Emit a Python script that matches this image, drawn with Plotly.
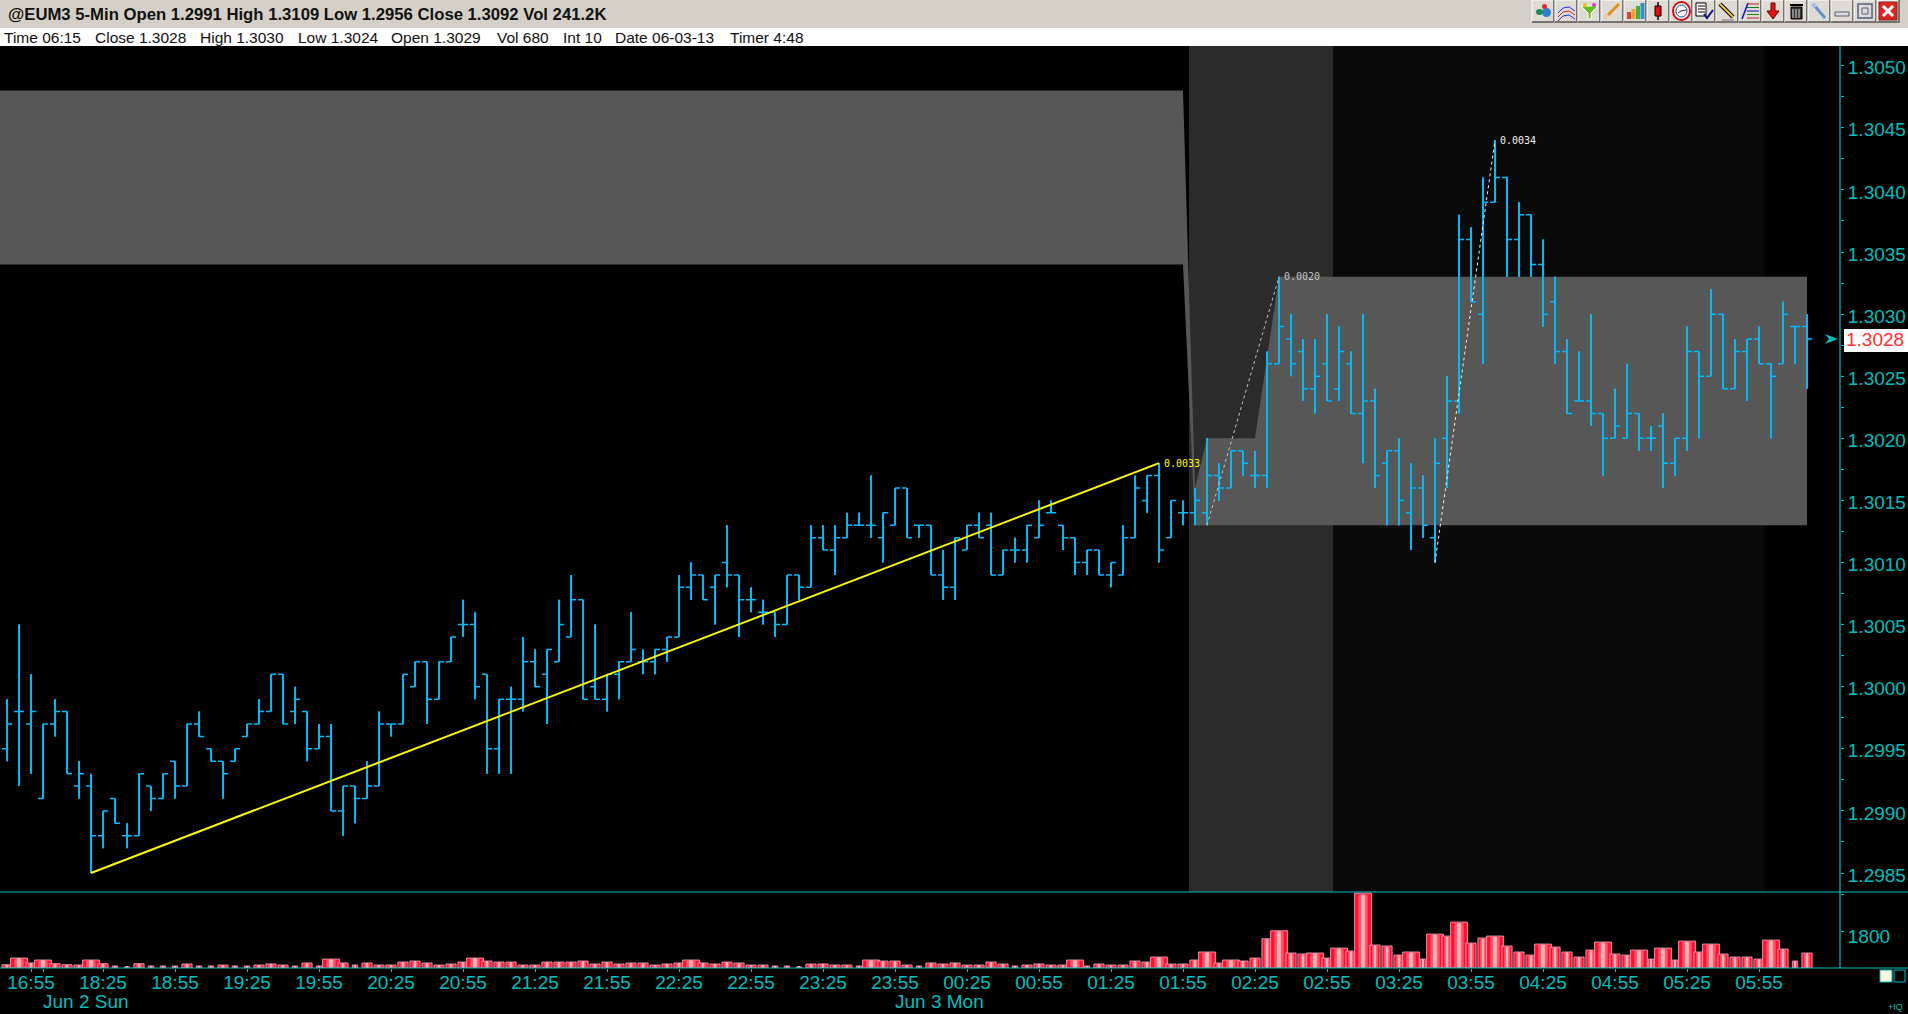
#!/usr/bin/env python
"""@EUM3 5-min bar chart with volume pane, session shading and swing measurements."""
import plotly.graph_objects as go

W, H = 1908, 1014
TEAL = "#00BEBE"; BARC = "#00BAFF"; PANEL = "#D4D0C8"
FONT = "Liberation Sans, Arial, sans-serif"; MONO = "DejaVu Sans Mono, monospace"

BASE_PRICE = 1.2985  # pips below are counted up from this price
open_pips = [10,13,12,6,12,13,7,7,3,6, 3,3,7,6,9,7,12,10,9,9, 11,12,13,16,13,13,10,11,5,7,
             6,7,12,12,15,17,14,17,20,20, 16,10,14,14,17,16,17,19,22,15, 14,16,17,17,17,18,19,23,24,23,
             25,24,22,21,21,20,24,23,27,26, 27,28,28,27,28,31,28,28,24,23, 26,28,28,24,26,26,27,29,28,27,
             25,26,24,24,27,30,32,27,29,29, 29,32,31,34,32,32,41,43,42,39, 41,39,41,37,38,33,34,29,31,27,
             35,38,51,45,54,56,51,53,49,46, 42,38,38,37,35,35,37,35,36,33, 35,42,40,45,39,42,43,41,41,44,44]
high_pips = [14,20,16,12,14,13,9,8,5,6, 4,8,7,8,9,12,13,10,9,10, 12,14,16,16,15,13,12,12,7,7,
             9,13,12,16,17,17,17,19,22,21, 16,14,15,19,18,18,22,24,22,20, 16,17,21,18,18,19,24,25,24,24,
             28,24,23,22,21,24,24,28,28,28, 29,29,32,29,31,31,28,28,26,27, 28,29,29,26,27,28,30,30,28,27,
             26,26,25,28,32,32,33,30,30,31, 35,33,34,34,34,42,48,45,43,43, 45,44,42,45,39,34,35,33,32,35,
             40,53,52,56,59,56,54,53,51,48, 43,42,45,37,39,41,37,36,37,35, 44,42,47,45,43,43,44,41,46,44,45]
low_pips = [9,7,8,6,11,8,6,0,2,4, 2,3,5,6,6,7,11,9,6,9, 11,12,13,12,12,9,10,5,3,4,
            6,7,11,12,15,12,14,17,19,14, 8,8,8,13,15,12,17,19,14,14, 13,14,17,16,16,17,19,22,22,20,
            23,19,21,20,19,20,22,23,26,24, 27,28,27,25,28,27,27,24,22,22, 26,27,24,24,25,25,27,29,26,24,
            24,24,23,24,27,29,25,27,28,28, 28,30,31,32,31,31,41,40,38,37, 38,38,37,33,31,28,28,26,27,25,
            31,37,46,41,54,48,48,48,44,41, 37,38,36,32,35,35,34,34,31,32, 34,35,40,39,39,38,41,35,41,41,39]
close_pips = [12,13,13,12,13,8,8,3,5,4, 3,8,6,8,7,12,11,9,8,10, 12,13,16,12,14,10,11,5,7,6,
              7,12,12,16,17,14,17,19,20,15, 10,14,14,17,15,18,20,22,14,14, 16,17,18,17,18,19,23,24,22,24,
              24,22,22,21,20,24,23,27,26,27, 28,28,28,29,31,27,28,24,23,27, 28,27,24,26,26,28,28,29,27,25,
              26,24,25,27,31,32,26,30,29,30, 32,31,34,33,32,41,44,41,39,40, 38,42,37,38,32,34,30,31,28,33,
              38,51,46,54,56,51,53,49,45,42, 37,38,37,35,36,37,35,35,33,35, 42,40,45,39,42,43,41,40,45,44,43]
volumes = [160,485,245,390,210,160,145,390,210,100, 50,210,100,100,100,195,100,100,145,100, 100,145,195,145,100,245,100,435,245,145,
           245,145,145,290,340,245,145,195,290,485, 340,290,290,145,145,290,290,290,340,195, 290,195,245,245,145,195,245,390,245,195,
           290,245,145,145,100,100,50,195,195,145, 145,100,390,340,340,145,100,245,195,245, 145,145,290,195,100,145,195,145,145,390,
           100,195,145,145,340,290,535,195,195,390, 780,245,390,340,485,1425,1815,730,680,730, 485,970,825,3645,1120,1070,630,780,435,1650,
           1555,2235,1215,1460,1555,1070,780,630,1165,1020, 780,535,875,1265,680,630,875,435,970,390, 1310,780,1165,680,535,535,435,1360,925,340,730]
time_ticks = [2,8,14,20,26,32,38,44,50,56,62,68,74,80,86,92,98,104,110,116,122,128,134,140,146]
time_labels = ["16:55","18:25","18:55","19:25","19:55","20:25","20:55","21:25","21:55","22:25","22:55","23:25",
               "23:55","00:25","00:55","01:25","01:55","02:25","02:55","03:25","03:55","04:25","04:55","05:25","05:55"]
date_ticks = [3, 74]
date_labels = ["Jun 2 Sun", "Jun 3 Mon"]
# session shading (bar positions) and the grey range band
session_x = [98.5, 110.5, 146.5]
band_x = [-2, 98, 99, 100, 104, 106, 150, 150, 99, 98, -2]
band_pips = [63, 63, 31, 35, 35, 48, 48, 28, 28, 49, 49]
# swing measurements: start bar, end bar, start pips, end pips, label
swing_bars = [(100, 106), (119, 124)]
swing_pips = [(28, 48), (25, 59)]
swing_labels = ["0.0020", "0.0034"]
swing_colors = ["#C4C4C4", "#F0F0F0"]
trend_bars = [7, 96]
trend_pips = [0, 33]
trend_label = "0.0033"

def price(p): return round(BASE_PRICE + p / 10000, 4)
def px(x): return x / W
def py(y): return 1 - y / H

shapes = []; notes = []
def rect(x0, y0, x1, y1, fill=None, line=None, lw=1, kind="rect", layer="below"):
    shapes.append(dict(type=kind, xref="paper", yref="paper", x0=px(x0), x1=px(x1), y0=py(y0), y1=py(y1), layer=layer,
                       fillcolor=fill or "rgba(0,0,0,0)", line=dict(color=line or "rgba(0,0,0,0)", width=lw if line else 0)))
def path(pts, color=None, lw=1, fill=None, close=False, layer="below"):
    d = "M" + " L".join(f"{px(a):.5f},{py(b):.5f}" for a, b in pts) + (" Z" if close else "")
    shapes.append(dict(type="path", xref="paper", yref="paper", path=d, layer=layer, fillcolor=fill or "rgba(0,0,0,0)",
                       line=dict(color=color or "rgba(0,0,0,0)", width=lw if color else 0)))
def text(x, y, s, size, color, family=FONT, anchor="left", xref="paper", yref="paper"):
    notes.append(dict(x=x, y=y, text=s, xref=xref, yref=yref, showarrow=False, xanchor=anchor, yanchor="middle",
                      font=dict(size=size, color=color, family=family), borderpad=0, borderwidth=0))

# window chrome
rect(0, 0, W, 28, PANEL); rect(0, 28, W, 46, "white")
text(px(8), py(15), "<b>@EUM3 5-Min Open 1.2991 High 1.3109 Low 1.2956 Close 1.3092 Vol 241.2K</b>", 16.7, "#111")
status = [(4,"Time 06:15"),(95,"Close 1.3028"),(200,"High 1.3030"),(298,"Low 1.3024"),(391,"Open 1.3029"),
          (497,"Vol 680"),(563,"Int 10"),(615,"Date 06-03-13"),(730,"Timer 4:48")]
for x, s in status:
    text(px(x), py(38), s, 15.5, "#111")

# toolbar
for i in range(16):
    b = 1532 + 23 * i
    rect(b, 0, b + 22, 22, "#DEDBD4")
    path([(b, 22), (b, 0), (b + 22, 0)], "white", 1)
    path([(b, 22), (b + 22, 22), (b + 22, 0)], "#555", 1.5)
b0 = 1532
def B(i): return b0 + 23 * i
rect(B(0)+10, 8, B(0)+19, 17, "#2F7FD0", kind="circle"); rect(B(0)+4, 9, B(0)+11, 15, "#1E8A55", kind="circle"); rect(B(0)+10, 4, B(0)+15, 9, "#D03030", kind="circle")
for c, dy in (("#2030E0", 5), ("#E02020", 9), ("#2030E0", 13)):
    path([(B(1)+3, 13+dy-5), (B(1)+8, 8+dy-5), (B(1)+14, 7+dy-5), (B(1)+20, 11+dy-5)], c, 1)
path([(B(2)+3, 6), (B(2)+20, 6), (B(2)+13, 13), (B(2)+13, 19), (B(2)+10, 19), (B(2)+10, 13)], "#FFF", 1, "#60C020", True)
rect(B(2)+5, 3, B(2)+9, 7, "#E0C020", kind="circle"); rect(B(2)+14, 3, B(2)+18, 7, "#D040C0", kind="circle")
path([(B(3)+4, 18), (B(3)+18, 4)], "#E09020", 3); path([(B(3)+4, 18), (B(3)+7, 15)], "#F0D0A0", 3)
for k, (c, t) in enumerate((("#E04030", 12), ("#F0A030", 9), ("#40B040", 6), ("#3090D0", 3))):
    rect(B(4)+3+4.5*k, t, B(4)+7+4.5*k, 19, c)
path([(B(5)+11, 2), (B(5)+11, 20)], "black", 1.5); rect(B(5)+8, 6, B(5)+14, 16, "#E01010", "black", 1)
rect(B(6)+3, 2, B(6)+20, 20, "white", "#D01010", 2, kind="circle"); rect(B(6)+6, 5, B(6)+17, 17, None, "#2040A0", 1, kind="circle")
path([(B(6)+8, 13), (B(6)+11, 11), (B(6)+16, 10)], "#102060", 1)
rect(B(7)+3, 3, B(7)+13, 16, "white", "black", 1)
for k in range(3):
    path([(B(7)+5, 6+3*k), (B(7)+12, 6+3*k)], "black", 1)
path([(B(7)+11, 14), (B(7)+14, 18), (B(7)+20, 10)], "#101080", 2)
path([(B(8)+4, 4), (B(8)+17, 17)], "black", 4); path([(B(8)+4, 4), (B(8)+17, 17)], "#F0D020", 2); path([(B(8)+6, 20), (B(8)+18, 20)], "#777", 1)
path([(B(9)+3, 19), (B(9)+9, 3)], "#1010E0", 1.5)
for k, c in enumerate(("#C02020", "#108010", "#1010C0", "#108010", "#C02020")):
    path([(B(9)+8, 4+3.5*k), (B(9)+20, 4+3.5*k)], c, 1)
path([(B(10)+9, 3), (B(10)+13, 3), (B(10)+13, 11), (B(10)+17, 11), (B(10)+11, 19), (B(10)+5, 11), (B(10)+9, 11)], "#600", 1, "#E81010", True)
rect(B(11)+6, 7, B(11)+17, 19, "#333", "black", 1); rect(B(11)+5, 4, B(11)+18, 6, "black")
for k in range(3):
    path([(B(11)+8+3*k, 9), (B(11)+8+3*k, 18)], "#DDD", 1)
path([(B(12)+5, 4), (B(12)+17, 18)], "#6090D0", 3); path([(B(12)+4, 3), (B(12)+8, 7)], "#B0C8E8", 2)
rect(B(13)+4, 12, B(13)+18, 16, None, "#556080", 1)
rect(B(14)+4, 4, B(14)+18, 18, None, "#556080", 1.5); rect(B(14)+8, 8, B(14)+14, 14, None, "#556080", 1)
rect(B(15)+2, 2, B(15)+20, 20, "#D82820", "#902020", 1)
path([(B(15)+6, 6), (B(15)+16, 16)], "white", 3); path([(B(15)+16, 6), (B(15)+6, 16)], "white", 3)

# session shading in the price pane
for i, c in enumerate(("#2B2B2B", "#0A0A0A")):
    shapes.append(dict(type="rect", xref="x", yref="y domain", x0=session_x[i], x1=session_x[i + 1], y0=0, y1=1,
                       fillcolor=c, line=dict(width=0), layer="below"))
# grey range band as a shape, a filled scatter would sit on top of the ohlc layer
band_path = "M" + " L".join(f"{a},{price(b)}" for a, b in zip(band_x, band_pips)) + " Z"
shapes.append(dict(type="path", xref="x", yref="y", path=band_path, fillcolor="#575757", line=dict(width=0), layer="below"))
# pane separators, full width
for yy in (892, 968):
    path([(0, yy), (W, yy)], TEAL, 1.2, layer="above")
path([(1840, 46), (1840, 968)], TEAL, 1.2, layer="above")
# last price arrow, fishtail
path([(1838, 339), (1825, 334), (1829, 339), (1825, 344)], None, 0, TEAL, True, layer="above")

xs = list(range(len(close_pips)))
opens, highs, lows, closes = [[price(p) for p in a] for a in (open_pips, high_pips, low_pips, close_pips)]
fig = go.Figure()
fig.add_trace(go.Ohlc(x=xs, open=opens, high=highs, low=lows, close=closes, tickwidth=0.42, hoverinfo="skip",
                      increasing=dict(line=dict(color=BARC, width=1.5)), decreasing=dict(line=dict(color=BARC, width=1.5))))
sx, sy = [], []
for i in xs:
    sx += [i, i, None]; sy += [lows[i], highs[i], None]
fig.add_trace(go.Scatter(x=sx, y=sy, mode="lines", line=dict(color=BARC, width=2), hoverinfo="skip"))
fig.add_trace(go.Scatter(x=trend_bars, y=[price(p) for p in trend_pips], mode="lines", line=dict(color="#FFFF00", width=2), hoverinfo="skip"))
for bars, pips, c in zip(swing_bars, swing_pips, swing_colors):
    fig.add_trace(go.Scatter(x=list(bars), y=[price(p) for p in pips], mode="lines", line=dict(color=c, width=1, dash="3px,3px"), hoverinfo="skip"))

# volume: body width follows local peaks and dips, lighter core down the middle
def vol_width(i):
    v = volumes[i]; a = volumes[max(i - 1, 0)]; b = volumes[min(i + 1, len(volumes) - 1)]
    if v >= 390 and v >= 1.05 * max(a, b): return 1.4
    if v <= 100 or v < 0.6 * min(a, b): return 0.45
    return 0.85
widths = [vol_width(i) for i in xs]
fig.add_trace(go.Bar(x=xs, y=volumes, xaxis="x2", yaxis="y2", width=widths, hoverinfo="skip",
                     marker=dict(color="#FF1030", line=dict(color="#FFB0D0", width=0.8))))
fig.add_trace(go.Bar(x=xs, y=[v * 0.98 for v in volumes], xaxis="x2", yaxis="y2", width=[w * 0.55 for w in widths], hoverinfo="skip",
                     marker=dict(color="#FF5868", line=dict(width=0))))
fig.add_trace(go.Bar(x=xs, y=[v * 0.98 for v in volumes], xaxis="x2", yaxis="y2", width=[w * 0.22 for w in widths], hoverinfo="skip",
                     marker=dict(color="#FFB4BC", line=dict(width=0))))

# measurement labels
text(trend_bars[1] + 0.45, price(trend_pips[1]), trend_label, 10, "#FFFF00", MONO, xref="x", yref="y")
for bars, pips, lab, c in zip(swing_bars, swing_pips, swing_labels, swing_colors):
    text(bars[1] + 0.45, price(pips[1]), lab, 10, c, MONO, xref="x", yref="y")
for t, lab in zip(date_ticks, date_labels):
    text(t, py(1001), lab, 19, TEAL, xref="x2")
# last price box
rect(1844, 329, 1908, 352, "white", layer="above")
text(px(1846), py(340), f"{closes[-1]:.4f}", 19, "#FF3030")
# corner widgets
rect(1880, 970, 1892, 982, "#FFFFE0", TEAL, 1, layer="above"); rect(1894, 970, 1905, 982, None, TEAL, 1, layer="above")
text(px(1888), py(1007), "+IQ", 9, TEAL)

fig.update_layout(width=W, height=H, margin=dict(l=0, r=0, t=0, b=0), autosize=False, showlegend=False, barmode="overlay",
    paper_bgcolor="black", plot_bgcolor="rgba(0,0,0,0)", font=dict(family=FONT, color=TEAL), shapes=shapes, annotations=notes,
    xaxis=dict(domain=[0, px(1840)], range=[-7 / 12, 1833 / 12], visible=False, anchor="y", rangeslider=dict(visible=False)),
    yaxis=dict(domain=[py(892), py(46)], range=[BASE_PRICE - 1.53 / 10000, BASE_PRICE + 66.59 / 10000], side="right", anchor="x",
               showgrid=False, zeroline=False, showline=False, ticks="outside", ticklen=3, tickcolor=TEAL, tickwidth=1.2,
               tick0=1.2985, dtick=0.0005, tickformat=".4f", tickfont=dict(size=19, color=TEAL, family=FONT), ticklabelshift=2,
               minor=dict(ticks="outside", ticklen=3, tickcolor=TEAL, dtick=0.00025, tick0=1.2985, showgrid=False)),
    xaxis2=dict(domain=[0, px(1840)], range=[-7 / 12, 1833 / 12], anchor="y2", showgrid=False, zeroline=False, showline=False,
                ticks="outside", ticklen=3, tickcolor=TEAL, tickmode="array", tickvals=time_ticks + date_ticks,
                ticktext=time_labels + ["", ""], tickfont=dict(size=19, color=TEAL, family=FONT), tickangle=0, ticklabelstandoff=-6),
    yaxis2=dict(domain=[py(968), py(892)], range=[0, 3700], side="right", anchor="x2", showgrid=False, zeroline=False, showline=False,
                ticks="outside", ticklen=3, tickcolor=TEAL, tickmode="array", tickvals=[1800, 3600], ticktext=["1800", ""],
                tickfont=dict(size=19, color=TEAL, family=FONT), ticklabelshift=5))
fig.write_html("out.html", config={"displayModeBar": False},
               post_script="document.body.style.margin='0';document.body.style.overflow='hidden';")
